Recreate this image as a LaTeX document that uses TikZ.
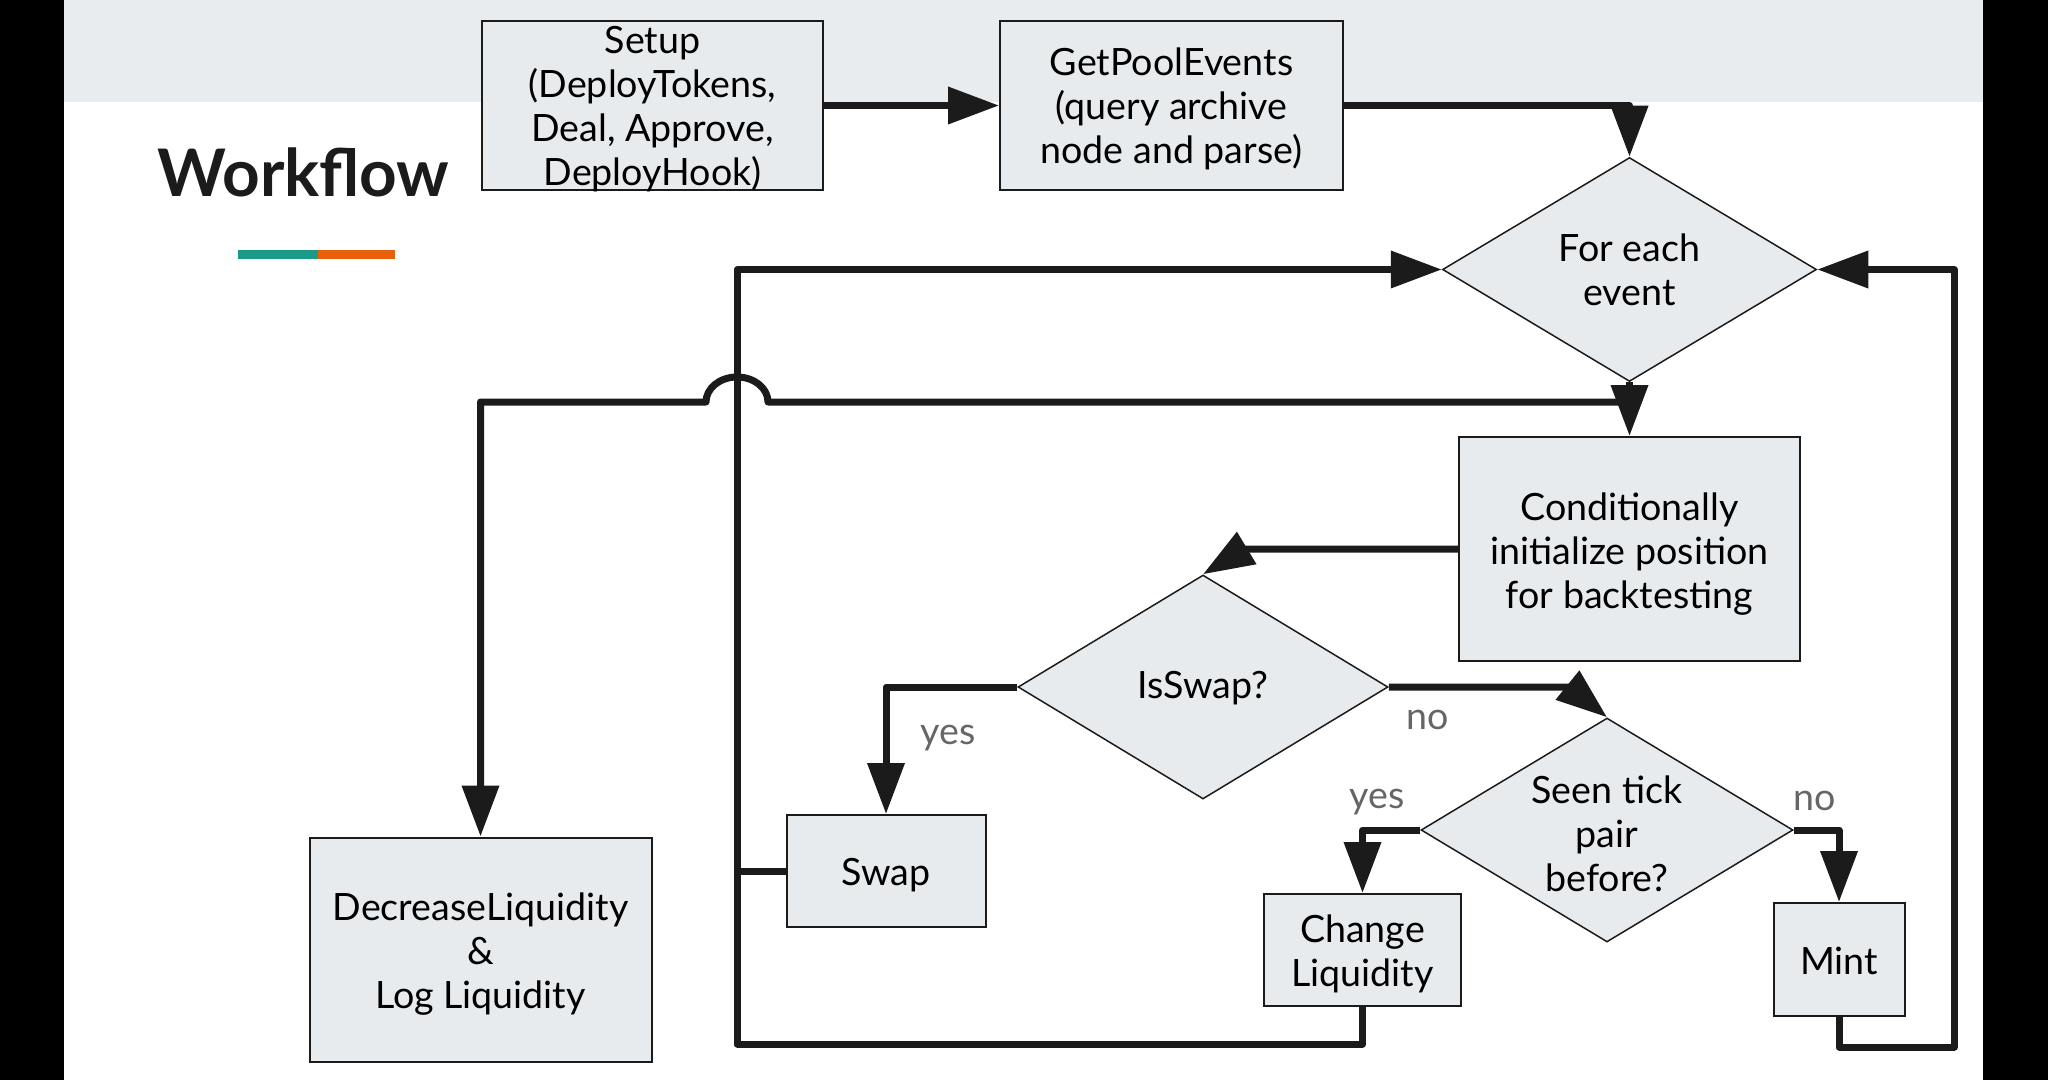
\documentclass[tikz,border=0pt]{standalone}
\usepackage{fontspec}
\setmainfont{Lato}
\usetikzlibrary{shapes.geometric,arrows.meta}
\definecolor{bandgray}{HTML}{E9ECEE}
\definecolor{nodegray}{HTML}{E8EBED}
\definecolor{ink}{HTML}{1B1B1B}
\definecolor{lblgray}{HTML}{666666}
\definecolor{wfteal}{HTML}{1A9A88}
\definecolor{wforange}{HTML}{E8600C}
\begin{document}
\begin{tikzpicture}[x=0.5pt,y=-0.5pt,
  txt/.style={font=\fontsize{18.8}{22}\selectfont},
  box/.style={draw=ink, line width=1pt, fill=nodegray, inner sep=0pt},
  dia/.style={diamond, draw=ink, line width=0.75pt, fill=nodegray, inner sep=0pt},
  dtext/.style={align=center, inner sep=0pt, txt},
  conn/.style={draw=ink, line width=3.5pt, line join=round},
  arr/.style={conn, -{Triangle[length=25.5pt,width=18pt]}},
  lbl/.style={text=lblgray, txt, inner sep=0pt}
]
\useasboundingbox (0,0) rectangle (2048,1080);
\fill[white] (0,0) rectangle (2048,1080);
\fill[bandgray] (64,0) rectangle (1983,102);
\fill[black] (0,0) rectangle (64,1080);
\fill[black] (1983,0) rectangle (2048,1080);

% title
\node[anchor=base west, inner sep=0pt, font=\fontsize{32.8}{36}\selectfont\bfseries, text=ink] (title) at (157,197) {Workflow};
\fill[wfteal] (238,250) rectangle (318,259);
\fill[wforange] (318,250) rectangle (395,259);

% shapes
\node[box, minimum width=170.5pt, minimum height=84.5pt] (setup) at (652.5,105.5) {};
\node[box, minimum width=171.5pt, minimum height=84.5pt] (gpe) at (1171.5,105.5) {};
\node[dia, minimum width=187pt, minimum height=112pt] (fe) at (1629.5,269.5) {};
\node[box, minimum width=170.5pt, minimum height=112pt] (cond) at (1629.5,549) {};
\node[dia, minimum width=185pt, minimum height=112pt] (isswap) at (1203,687) {};
\node[box, minimum width=99.5pt, minimum height=56pt] (swap) at (886,871) {};
\node[dia, minimum width=186pt, minimum height=112pt] (seen) at (1607,830) {};
\node[box, minimum width=98.5pt, minimum height=56pt] (chg) at (1362.5,950) {};
\node[box, minimum width=65.5pt, minimum height=56.5pt] (mint) at (1839,959.5) {};
\node[box, minimum width=171pt, minimum height=112pt] (dec) at (480.5,949.5) {};

% texts
\node[dtext] (setupt) at ([yshift=-2pt]setup.center) {Setup\\(DeployTokens,\\Deal, Approve,\\DeployHook)};
\node[dtext] (gpet) at ([yshift=-1.5pt]gpe.center) {GetPoolEvents\\(query archive\\node and parse)};
\node[dtext] (fet) at (fe.center) {For each\\event};
\node[dtext] (condt) at ([yshift=-2.5pt]cond.center) {Conditionally\\initialize position\\for backtesting};
\node[dtext] (isswapt) at ([yshift=-0.5pt]isswap.center) {IsSwap?};
\node[dtext] (swapt) at ([yshift=-2pt]swap.center) {Swap};
\node[dtext] (seent) at ([yshift=-2pt]seen.center) {Seen tick\\pair\\before?};
\node[dtext] (chgt) at ([yshift=-2pt]chg.center) {Change\\Liquidity};
\node[dtext] (mintt) at ([yshift=-0.5pt]mint.center) {Mint};
\node[dtext] (dect) at ([yshift=-2.5pt]dec.center) {DecreaseLiquidity\\\&\\Log Liquidity};

% labels
\node[lbl] (l1) at (948,738) {yes};
\node[lbl] (l2) at (1428,720) {no};
\node[lbl] (l3) at (1377,802) {yes};
\node[lbl] (l4) at (1815,801) {no};

% helper coordinates
\coordinate (hy) at (0,402);
\coordinate (lx) at (737,0);
\coordinate (rx) at (1954,0);
\coordinate (by1) at (0,1044);
\coordinate (by2) at (0,1047);

% connectors
\draw[arr] (setup.east) -- (gpe.west);
\draw[arr] (gpe.east) -| (fe.north);
\draw[arr] (fe.south) -- (cond.north);
\draw[arr] (fe.south |- hy) -- (768,402)
   arc[start angle=0,end angle=180,x radius=15.5pt,y radius=12.5pt]
   -- (dec.north |- hy) -- (dec.north);
\draw[arr] (cond.west) -- ++(-213,0) -- (isswap.north);
\draw[arr] (isswap.west) -| (swap.north);
\draw[arr] (isswap.east) -- ++(181,0) -- (seen.north);
\draw[arr] (seen.west) -| (chg.north);
\draw[arr] (seen.east) -| (mint.north);
\draw[conn] (swap.west) -- (swap.west -| lx);
\draw[arr] (chg.south) -- (chg.south |- by1) -- (lx |- by1) -- (lx |- fe.west) -- (fe.west);
\draw[arr] (mint.south) -- (mint.south |- by2) -- (rx |- by2) -- (rx |- fe.east) -- (fe.east);
\end{tikzpicture}
\end{document}
